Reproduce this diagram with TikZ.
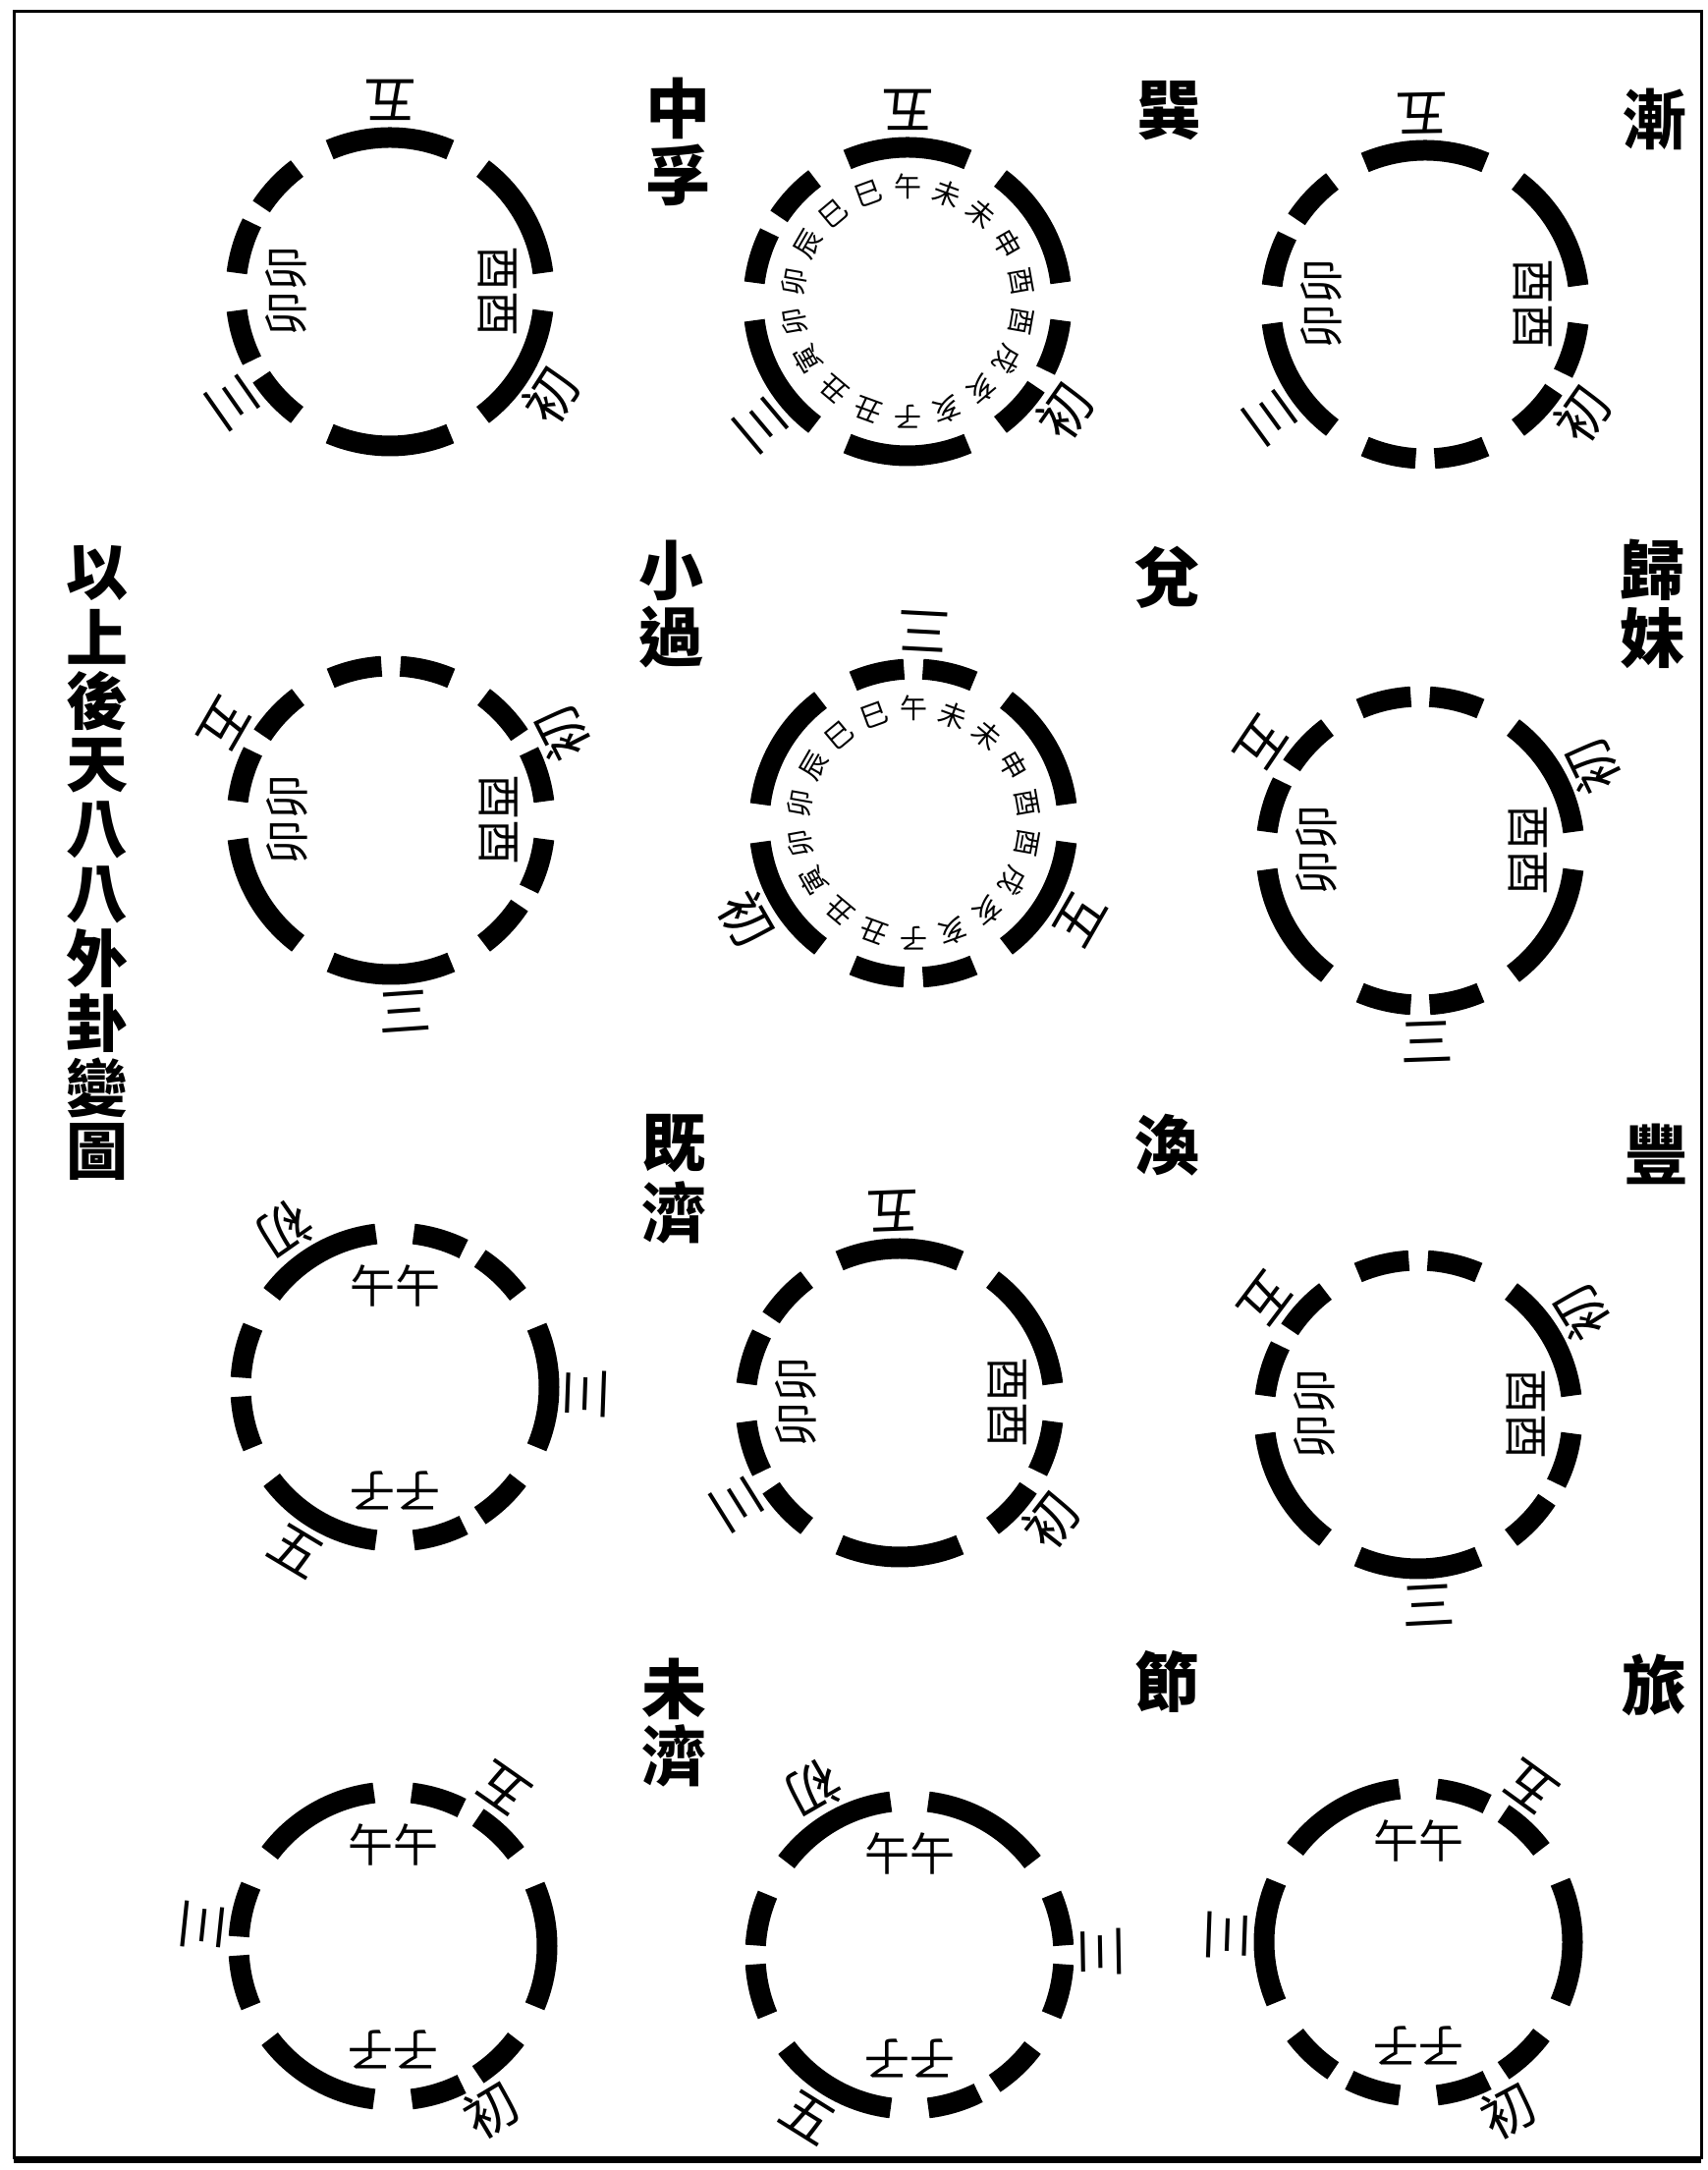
\documentclass[tikz,border=0pt]{standalone}
\usepackage{fontspec}
\newfontfamily\cjk{Noto Sans CJK TC}
\newcommand\hexR{157pt}
\tikzset{
  hexline/.style={line width=21pt, black},
  outlab/.style={font=\cjk\fontsize{54}{54}\selectfont, inner sep=0pt},
  inlab/.style={font=\cjk\fontsize{46}{46}\selectfont, inner sep=0pt},
  ringlab/.style={font=\cjk\fontsize{28}{28}\selectfont, inner sep=0pt},
  gtitle/.style={font=\cjk\bfseries\fontsize{66}{66}\selectfont, inner sep=0pt},
  lefttext/.style={font=\cjk\bfseries\fontsize{63}{63}\selectfont, inner sep=0pt},
}
\newcommand\yangarc[2]{\draw[hexline] (#1) ++({#2-23}:\hexR) arc[start angle={#2-23}, end angle={#2+23}, radius=\hexR];}
\newcommand\yinarc[2]{\draw[hexline] (#1) ++({#2-23}:\hexR) arc[start angle={#2-23}, end angle={#2-3.5}, radius=\hexR];
  \draw[hexline] (#1) ++({#2+3.5}:\hexR) arc[start angle={#2+3.5}, end angle={#2+23}, radius=\hexR];}
\newcommand\hexl[3]{\ifnum#3=1 \yangarc{#1}{#2}\else\yinarc{#1}{#2}\fi}
\newcommand\hexcircle[8]{\hexl{#1}{#2}{#3}\hexl{#1}{#2-60}{#4}\hexl{#1}{#2-120}{#5}\hexl{#1}{#2-180}{#6}\hexl{#1}{#2-240}{#7}\hexl{#1}{#2-300}{#8}}
\newcommand\olab[4]{\path (#1) ++(#2:195pt) node[outlab, rotate={#2+90}] (#1-#4) {#3};}
\newcommand\maoyou[1]{\path (#1) ++(180:106pt) node[inlab, rotate=90] (#1-mao) {卯卯};
  \path (#1) ++(0:110pt) node[inlab, rotate=-90] (#1-you) {酉酉};}
\newcommand\wuzi[1]{\path (#1) ++(90:103pt) node[inlab] (#1-wuwu) {午午};
  \path (#1) ++(-90:106pt) node[inlab, rotate=180] (#1-zizi) {子子};}
\newcommand\branchring[1]{\foreach \ch [count=\i from 0] in {午,未,未,申,酉,酉,戌,亥,亥,子,丑,丑,寅,卯,卯,辰,巳,巳} {\path (#1) ++({90-20*\i}:117pt) node[ringlab, rotate={-20*\i}] (#1-r\i) {\ch};}}
\begin{document}
\begin{tikzpicture}[x=1pt,y=1pt]
\useasboundingbox (0,0) rectangle (1739,2209);
\fill[white] (0,0) rectangle (1739,2209);
\draw[line width=3pt] (14,12) rectangle (1732,2197);
\draw[line width=7pt] (14,10) -- (1732,10);

% circle centres
\coordinate (c1) at (397,1912);
\coordinate (c2) at (924,1902);
\coordinate (c3) at (1451,1899);
\coordinate (c4) at (398,1374);
\coordinate (c5) at (930,1371);
\coordinate (c6) at (1446,1343);
\coordinate (c7) at (402,797);
\coordinate (c8) at (916,781);
\coordinate (c9) at (1444,769);
\coordinate (c10) at (400,228);
\coordinate (c11) at (926,219);
\coordinate (c12) at (1444,232);

% hexagram rings (first line angle, then lines from bottom, 1 = unbroken)
\hexcircle{c1}{-30}{1}{1}{0}{0}{1}{1}
\hexcircle{c2}{-30}{0}{1}{1}{0}{1}{1}
\hexcircle{c3}{-30}{0}{0}{1}{0}{1}{1}
\hexcircle{c4}{30}{0}{0}{1}{1}{0}{0}
\hexcircle{c5}{-150}{1}{1}{0}{1}{1}{0}
\hexcircle{c6}{30}{1}{1}{0}{1}{0}{0}
\hexcircle{c7}{120}{1}{0}{1}{0}{1}{0}
\hexcircle{c8}{-30}{0}{1}{0}{0}{1}{1}
\hexcircle{c9}{30}{1}{0}{1}{1}{0}{0}
\hexcircle{c10}{-60}{0}{1}{0}{1}{0}{1}
\hexcircle{c11}{120}{1}{1}{0}{0}{1}{0}
\hexcircle{c12}{-60}{0}{0}{1}{1}{0}{1}

% outer labels
\olab{c1}{90}{五}{wu} \olab{c1}{-33}{初}{chu} \olab{c1}{-145}{三}{san}
\olab{c2}{90}{五}{wu} \olab{c2}{-35}{初}{chu} \olab{c2}{-140}{三}{san}
\olab{c3}{91}{五}{wu} \olab{c3}{-35}{初}{chu} \olab{c3}{-144}{三}{san}
\olab{c4}{150}{五}{wu} \olab{c4}{27}{初}{chu} \olab{c4}{-86}{三}{san}
\olab{c5}{87}{三}{san} \olab{c5}{-30}{五}{wu} \olab{c5}{-150}{初}{chu}
\olab{c6}{146}{五}{wu} \olab{c6}{26}{初}{chu} \olab{c6}{-88}{三}{san}
\olab{c7}{125}{初}{chu} \olab{c7}{-2}{三}{san} \olab{c7}{-121}{五}{wu}
\olab{c8}{92}{五}{wu} \olab{c8}{-38}{初}{chu} \olab{c8}{-148}{三}{san}
\olab{c9}{143}{五}{wu} \olab{c9}{32}{初}{chu} \olab{c9}{-87}{三}{san}
\olab{c10}{55}{五}{wu} \olab{c10}{-59}{初}{chu} \olab{c10}{174}{三}{san}
\olab{c11}{120}{初}{chu} \olab{c11}{1}{三}{san} \olab{c11}{-122}{五}{wu}
\olab{c12}{54}{五}{wu} \olab{c12}{-62}{初}{chu} \olab{c12}{178}{三}{san}

% inner labels
\maoyou{c1} \maoyou{c3} \maoyou{c4} \maoyou{c6} \maoyou{c8} \maoyou{c9}
\wuzi{c7} \wuzi{c10} \wuzi{c11} \wuzi{c12}
\branchring{c2} \branchring{c5}

% titles
\node[gtitle] (t1a) at (690,2099) {中};
\node[gtitle] (t1b) at (690,2031) {孚};
\node[gtitle] (t2) at (1190,2096) {巽};
\node[gtitle] (t3) at (1684,2088) {漸};
\node[gtitle] (t4a) at (683,1628) {小};
\node[gtitle] (t4b) at (683,1560) {過};
\node[gtitle] (t5) at (1188,1621) {兌};
\node[gtitle] (t6a) at (1682,1629) {歸};
\node[gtitle] (t6b) at (1682,1559) {妹};
\node[gtitle] (t7a) at (686,1045) {既};
\node[gtitle] (t7b) at (686,975) {濟};
\node[gtitle] (t8) at (1188,1043) {渙};
\node[gtitle] (t9) at (1686,1034) {豐};
\node[gtitle] (t10a) at (686,490) {未};
\node[gtitle] (t10b) at (686,422) {濟};
\node[gtitle] (t11) at (1188,497) {節};
\node[gtitle] (t12) at (1684,494) {旅};

% left vertical caption
\foreach \ch [count=\i from 0] in {以,上,後,天,八,八,外,卦,變,圖}
  \node[lefttext] (lt\i) at (99,{1626-65.5*\i}) {\ch};
\end{tikzpicture}
\end{document}
